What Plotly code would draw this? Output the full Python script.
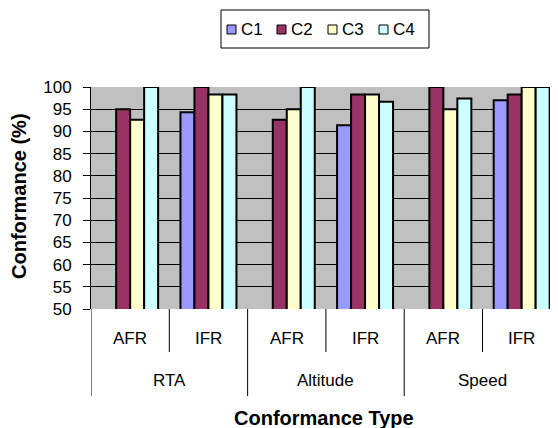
import plotly.graph_objects as go

outer = ["RTA", "RTA", "Altitude", "Altitude", "Speed", "Speed"]
inner = ["AFR", "IFR", "AFR", "IFR", "AFR", "IFR"]
series_names = ["C1", "C2", "C3", "C4"]
c1 = [None, 94.3, None, 91.4, None, 97.0]
c2 = [95.0, 100.0, 92.6, 98.3, 100.0, 98.3]
c3 = [92.6, 98.3, 95.0, 98.3, 95.0, 100.0]
c4 = [100.0, 98.3, 100.0, 96.7, 97.4, 100.0]
colors = ["#9999FF", "#993366", "#FFFFCC", "#CCFFFF"]
y_ticks = [50, 55, 60, 65, 70, 75, 80, 85, 90, 95, 100]

keys = [o + " " + i for o, i in zip(outer, inner)]
FONT = "Liberation Sans, Arial, sans-serif"

# page body offset (default html margin) and plot area geometry in window px
OFF = 8
WL, WT, WR, WB = 91, 87, 558, 309
L, T, R, B = WL - OFF, WT - OFF, WR - OFF, WB - OFF
PW, PH = float(R - L), float(B - T)
FW, FH = 558 - OFF, 428 - OFF


def px(wx):
    return (wx - OFF - L) / PW


def py(wy):
    return (B - (wy - OFF)) / PH


fig = go.Figure()
for name, vals, col in zip(series_names, [c1, c2, c3, c4], colors):
    fig.add_trace(go.Bar(
        x=keys, y=vals, name=name, showlegend=False,
        marker=dict(color=col, line=dict(color="black", width=2)),
    ))

annotations = []
shapes = []
for k, lab in zip(keys, inner):
    annotations.append(dict(x=k, xref="x", y=0, yref="paper", yshift=-29,
                            text=lab, showarrow=False, yanchor="middle",
                            font=dict(size=17, color="black", family=FONT)))
groups = []
for idx, o in enumerate(outer):
    if not groups or groups[-1][0] != o:
        groups.append([o, idx, idx])
    else:
        groups[-1][2] = idx
for o, a, b in groups:
    annotations.append(dict(x=(a + b) / 2.0, xref="x", y=0, yref="paper", yshift=-71,
                            text=o, showarrow=False, yanchor="middle",
                            font=dict(size=17, color="black", family=FONT)))
    shapes.append(dict(type="line", xref="x", yref="paper", x0=a - 0.5, x1=a - 0.5,
                       y0=0, y1=-87 / PH, line=dict(color="black", width=1)))
    for m in range(a, b):
        shapes.append(dict(type="line", xref="x", yref="paper", x0=m + 0.5, x1=m + 0.5,
                           y0=0, y1=-43 / PH, line=dict(color="black", width=1)))

annotations.append(dict(x=px(324), xref="paper", y=py(418), yref="paper",
                        text="<b>Conformance Type</b>", showarrow=False,
                        xanchor="center", yanchor="middle",
                        font=dict(size=20, color="black", family=FONT)))
annotations.append(dict(x=px(19), xref="paper", y=py(196), yref="paper",
                        text="<b>Conformance (%)</b>", showarrow=False, textangle=-90,
                        xanchor="center", yanchor="middle",
                        font=dict(size=20, color="black", family=FONT)))

# legend box
shapes.append(dict(type="rect", xref="paper", yref="paper",
                   x0=px(221), x1=px(429), y0=py(48), y1=py(10),
                   line=dict(color="black", width=1), fillcolor="white"))
leg_x = [227, 277, 328, 379]
for name, col, lx in zip(series_names, colors, leg_x):
    shapes.append(dict(type="rect", xref="paper", yref="paper",
                       x0=px(lx), x1=px(lx + 9), y0=py(34), y1=py(25),
                       line=dict(color="black", width=1), fillcolor=col))
    annotations.append(dict(x=px(lx + 12), xref="paper", y=py(29.5), yref="paper",
                            text=name, showarrow=False, xanchor="left", yanchor="middle",
                            font=dict(size=17, color="black", family=FONT)))

fig.update_layout(
    width=FW, height=FH,
    margin=dict(l=L, r=FW - R, t=T, b=FH - B, autoexpand=False),
    paper_bgcolor="white", plot_bgcolor="#C0C0C0",
    barmode="group", bargap=0.285, bargroupgap=0,
    font=dict(family=FONT, color="black", size=16),
    showlegend=False,
    annotations=annotations, shapes=shapes,
)
fig.update_xaxes(type="category", range=[-0.5, 5.464], showticklabels=False,
                 showgrid=False, ticks="", showline=False, zeroline=False,
                 automargin=False)
fig.update_yaxes(range=[50, 100], tickvals=y_ticks, showgrid=True, gridcolor="black",
                 gridwidth=1, ticks="outside", ticklen=7, tickcolor="black",
                 showline=True, linecolor="black", linewidth=1, zeroline=False,
                 ticklabelstandoff=8, automargin=False,
                 tickfont=dict(size=17, family=FONT))

fig.write_html("out.html")
